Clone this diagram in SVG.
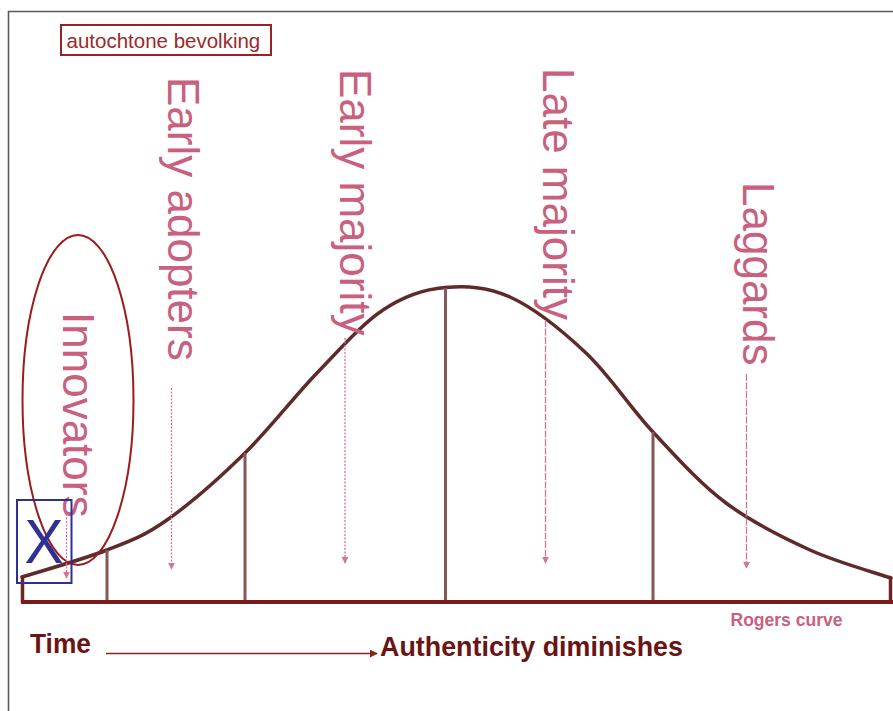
<svg xmlns="http://www.w3.org/2000/svg" width="893" height="711" viewBox="0 0 893 711">
<style>
.lbl{font-family:"Liberation Sans",Arial,sans-serif;font-size:44px;fill:#c8607e}
.bold{font-family:"Liberation Sans",Arial,sans-serif;font-weight:bold}
.curve{fill:none;stroke:#5e2a2a;stroke-width:3.5;stroke-linecap:round}
.div{stroke:#855757;stroke-width:3}
.dot{fill:none;stroke:#d27695;stroke-width:1.3;stroke-dasharray:2 1.5}
.dash{fill:none;stroke:#d27695;stroke-width:1.3;stroke-dasharray:7 1.5}
</style>
<defs>
<marker id="pk" viewBox="0 0 10 10" refX="9" refY="5" markerWidth="7" markerHeight="7" markerUnits="userSpaceOnUse" orient="auto">
<path d="M0,0 L10,5 L0,10 z" fill="#d27695"/>
</marker>
<marker id="rd" viewBox="0 0 10 10" refX="9" refY="5" markerWidth="8" markerHeight="8" markerUnits="userSpaceOnUse" orient="auto">
<path d="M0,0 L10,5 L0,10 z" fill="#8b2323"/>
</marker>
</defs>
<rect width="893" height="711" fill="#fff"/>
<g id="frame">
<path d="M8.5,711 V11.5 H893" fill="none" stroke="#5a5a5a" stroke-width="1.6"/>
</g>
<g id="label-box">
<rect x="61" y="25" width="210" height="30" fill="none" stroke="#9b2226" stroke-width="2"/>
<text x="66.5" y="47.5" font-family="'Liberation Sans',Arial,sans-serif" font-size="20.5" fill="#9b2a2a">autochtone bevolking</text>
</g>
<g id="curve">
<path class="curve" d="M22,577 C36.2,572.5 82.8,559.5 107,550 C131.2,540.5 144,536.2 167,520 C190,503.8 220,477.5 245,453 C270,428.5 294,396.8 317,373 C340,349.2 361.7,324.2 383,310 C404.3,295.8 423.8,289.2 445,287.5 C466.2,286 486.5,286.2 510,297 C533.5,307.8 562.2,330.5 586,353 C609.8,375.5 629.7,407 653,432 C676.3,457 699.8,483.3 726,503 C752.2,522.7 782.5,537.5 810,550 C837.5,562.5 877.5,573.3 891,578"/>
<line class="div" x1="107" y1="550" x2="107" y2="602"/>
<line class="div" x1="245" y1="453" x2="245" y2="602"/>
<line class="div" x1="445.5" y1="288" x2="445.5" y2="602"/>
<line class="div" x1="653" y1="432" x2="653" y2="602"/>
<line x1="22.5" y1="577" x2="22.5" y2="603" stroke="#6e2424" stroke-width="3.5"/>
<line x1="890.5" y1="578" x2="890.5" y2="603" stroke="#6e2424" stroke-width="3.5"/>
<line x1="21" y1="602" x2="893" y2="602" stroke="#7b1a1a" stroke-width="4"/>
</g>
<g id="innovators">
<ellipse cx="78" cy="400" rx="55.5" ry="165" fill="none" stroke="#9b1c1c" stroke-width="2"/>
<text class="lbl" transform="translate(63,312) rotate(90)">Innovators</text>
</g>
<g id="early-adopters">
<text class="lbl" transform="translate(168,77) rotate(90)">Early adopters</text>
</g>
<g id="early-majority">
<text class="lbl" transform="translate(340,69) rotate(90)">Early majority</text>
</g>
<g id="late-majority">
<text class="lbl" transform="translate(543,68) rotate(90)">Late majority</text>
</g>
<g id="laggards">
<text class="lbl" transform="translate(743,182) rotate(90)">Laggards</text>
</g>
<g id="x-box">
<rect x="17" y="500" width="54.5" height="83" fill="none" stroke="#2e3192" stroke-width="2"/>
<text x="44" y="563" text-anchor="middle" font-family="'Liberation Sans',Arial,sans-serif" font-size="63" fill="#2e3192" textLength="39" lengthAdjust="spacingAndGlyphs">X</text>
</g>
<g id="connectors">
<line class="dot" x1="66.5" y1="514" x2="66.5" y2="578" marker-end="url(#pk)"/>
<line class="dot" x1="171.5" y1="388" x2="171.5" y2="569" marker-end="url(#pk)"/>
<line class="dot" x1="345" y1="338" x2="345" y2="563" marker-end="url(#pk)"/>
<line class="dash" x1="545.5" y1="320" x2="545.5" y2="563" marker-end="url(#pk)"/>
<line class="dash" x1="746.5" y1="374" x2="746.5" y2="568" marker-end="url(#pk)"/>
<line x1="106" y1="653.5" x2="377" y2="653.5" stroke="#8b2323" stroke-width="1.5" marker-end="url(#rd)"/>
</g>
<g id="axis-labels">
<text class="bold" x="30" y="653" font-size="27" fill="#6b1414" textLength="61" lengthAdjust="spacingAndGlyphs">Time</text>
<text class="bold" x="380" y="656" font-size="28" fill="#6b1414" textLength="303" lengthAdjust="spacingAndGlyphs">Authenticity diminishes</text>
<text class="bold" x="730.5" y="626" font-size="17.5" fill="#c8607e" textLength="112" lengthAdjust="spacingAndGlyphs">Rogers curve</text>
</g>
</svg>
